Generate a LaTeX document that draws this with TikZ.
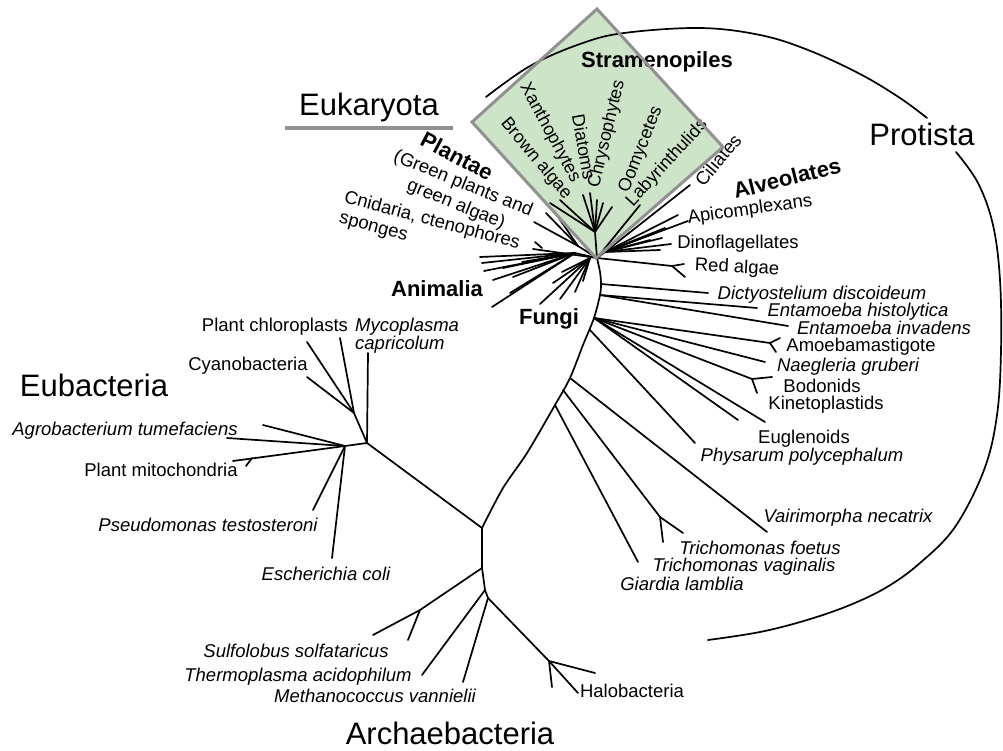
\documentclass[tikz,border=0pt]{standalone}
\usepackage{fontspec}
\setmainfont{Liberation Sans}
\definecolor{diafill}{RGB}{205,228,200}
\definecolor{diaedge}{RGB}{145,145,145}
\begin{document}
\begin{tikzpicture}[x=1pt,y=-1pt,
  br/.style={line width=1.7pt, line cap=round, line join=round},
  big/.style={font=\fontsize{31}{31}\selectfont, inner sep=0pt},
  grp/.style={font=\bfseries\fontsize{22}{22}\selectfont, inner sep=0pt},
  lab/.style={font=\fontsize{18.5}{18.5}\selectfont, inner sep=0pt},
  itl/.style={font=\itshape\fontsize{18.5}{18.5}\selectfont, inner sep=0pt},
  stl/.style={font=\fontsize{18}{18}\selectfont, inner sep=0pt},
  arcline/.style={line width=1.7pt, line cap=round},
  bar/.style={line width=3.5pt, draw=diaedge}
]
\useasboundingbox (0,0) rectangle (1003,751);
\fill[white] (0,0) rectangle (1003,751);

% diamond (fill)
\coordinate (dT) at (597,9);
\coordinate (dR) at (723,147);
\coordinate (dB) at (596,258);
\coordinate (dL) at (472,122);
\fill[diafill] (dT) -- (dR) -- (dB) -- (dL) -- cycle;

% Protista arc
\draw[arcline] plot[smooth, tension=0.6] coordinates {(486,97) (530,66) (580,44) (624,33) (700,28) (760,35) (808,50) (860,74) (900,98) (927,118)};
\draw[arcline] plot[smooth, tension=0.6] coordinates {(956,152) (978,183) (993,225) (1000,280) (1001,350) (997,415) (984,470) (955,527) (920,563) (887,587) (850,605) (807,620) (760,632) (708,640)};

% Eukaryota underline
\coordinate (u1) at (285,128);
\coordinate (u2) at (453,128);
\draw[bar] (u1) -- (u2);

% ---------- trunk ----------
\coordinate (K) at (597,258);
\coordinate (t1) at (601,284);
\coordinate (t2) at (600,295);
\coordinate (t3) at (594,318);
\coordinate (t3b) at (590,330);
\coordinate (t4) at (570,378);
\coordinate (t5) at (563,390);
\coordinate (t6) at (555,405);
\coordinate (J1) at (482,528);
\draw[br] plot[smooth, tension=0.5] coordinates {(K) (600,272) (t1) (t2) (t3) (583,345) (t4) (t6) (527,453) (503,488) (J1)};

% ---------- Eubacteria ----------
\coordinate (E) at (367,443);
\coordinate (Ech) at (354,413);
\coordinate (myc) at (368,353);
\coordinate (pc1) at (307,342);
\coordinate (pc2) at (340,338);
\coordinate (cya) at (307,377);
\coordinate (E2) at (345,446);
\coordinate (ag1) at (263,425);
\coordinate (ag2) at (227,438);
\coordinate (pm) at (233,461);
\coordinate (pmf) at (252,458);
\coordinate (pmf2) at (246,466);
\coordinate (ps) at (313,510);
\coordinate (ec) at (332,558);
\draw[br] (J1) -- (E);
\draw[br] (E) -- (Ech) -- (pc1);
\draw[br] (Ech) -- (pc2);
\draw[br] (Ech) -- (cya);
\draw[br] (E) -- (myc);
\draw[br] (E) -- (E2);
\draw[br] (E2) -- (ag1);
\draw[br] (E2) -- (ag2);
\draw[br] (E2) -- (pm);
\draw[br] (pmf) -- (pmf2);
\draw[br] (E2) -- (ps);
\draw[br] (E2) -- (ec);

% ---------- Archaebacteria ----------
\coordinate (J2) at (482,568);
\coordinate (SN) at (420,610);
\coordinate (s1) at (373,635);
\coordinate (s2) at (408,640);
\coordinate (J3) at (485,590);
\coordinate (th) at (422,675);
\coordinate (J4) at (488,598);
\coordinate (me) at (463,682);
\coordinate (HN) at (549,661);
\coordinate (h1) at (595,673);
\coordinate (h2) at (578,693);
\coordinate (h3) at (552,687);
\draw[br] (J1) -- (J2);
\draw[br] (J2) -- (SN) -- (s1);
\draw[br] (SN) -- (s2);
\draw[br] (J2) -- (J3) -- (th);
\draw[br] (J3) -- (J4) -- (me);
\draw[br] (J4) -- (HN) -- (h1);
\draw[br] (HN) -- (h2);
\draw[br] (HN) -- (h3);

% ---------- Protist branches ----------
\coordinate (ra) at (672,266);
\coordinate (ra1) at (684,264);
\coordinate (ra2) at (685,277);
\coordinate (dic) at (708,293);
\coordinate (eh) at (757,308);
\coordinate (ei) at (788,326);
\coordinate (amn) at (770,343);
\coordinate (am1) at (780,338);
\coordinate (am2) at (776,352);
\coordinate (nae) at (765,362);
\coordinate (bon) at (752,379);
\coordinate (bo1) at (772,377);
\coordinate (bo2) at (757,393);
\coordinate (eu1) at (765,422);
\coordinate (eu2) at (738,420);
\coordinate (phy) at (695,443);
\coordinate (vai) at (767,532);
\coordinate (trn) at (660,517);
\coordinate (tr1) at (683,533);
\coordinate (tr2) at (663,542);
\coordinate (gia) at (638,562);
\draw[br] (K) -- (ra) -- (ra1);
\draw[br] (ra) -- (ra2);
\draw[br] (t1) -- (dic);
\draw[br] (t2) -- (eh);
\draw[br] (t2) -- (ei);
\draw[br] (t3) -- (amn) -- (am1);
\draw[br] (amn) -- (am2);
\draw[br] (t3) -- (nae);
\draw[br] (t3) -- (bon) -- (bo1);
\draw[br] (bon) -- (bo2);
\draw[br] (t3) -- (eu1);
\draw[br] (t3) -- (eu2);
\draw[br] (t3b) -- (phy);
\draw[br] (t4) -- (vai);
\draw[br] (t5) -- (trn) -- (tr1);
\draw[br] (trn) -- (tr2);
\draw[br] (t6) -- (gia);

% ---------- crown fans ----------
% Plantae
\coordinate (pl) at (578,246);
\coordinate (pl1) at (534,222);
\coordinate (pl2) at (546,213);
\coordinate (pl3) at (554,211);
\draw[br] (K) -- (pl) -- (pl1);
\draw[br] (pl) -- (pl2);
\draw[br] (pl) -- (pl3);
% Cnidaria
\coordinate (cn) at (533,249);
\coordinate (cnf) at (542,248);
\coordinate (cnf2) at (535,242);
\draw[br] (K) -- (cn);
\draw[br] (cnf) -- (cnf2);
% Animalia
\coordinate (an) at (575,253);
\coordinate (an1) at (480,257);
\coordinate (an2) at (482,263);
\coordinate (an3) at (484,271);
\coordinate (an4) at (493,280);
\coordinate (an5) at (492,307);
\coordinate (an6) at (510,293);
\coordinate (an7) at (513,277);
\coordinate (an8) at (503,268);
\coordinate (an9) at (522,262);
\draw[br] (K) -- (an);
\foreach \t in {an1,an2,an3,an4,an5,an6,an7,an8,an9} \draw[br] (an) -- (\t);
% Fungi
\coordinate (fu) at (590,258);
\coordinate (fu1) at (540,304);
\coordinate (fu2) at (560,299);
\coordinate (fu3) at (575,292);
\coordinate (fu4) at (583,281);
\coordinate (fu5) at (553,283);
\coordinate (fu6) at (562,272);
\foreach \t in {fu1,fu2,fu3,fu4,fu5,fu6} \draw[br] (fu) -- (\t);
% Alveolates
\coordinate (al) at (605,252);
\coordinate (ci) at (690,185);
\coordinate (ap1) at (688,221);
\coordinate (ap2) at (678,215);
\coordinate (ap3) at (665,228);
\coordinate (ap4) at (655,233);
\coordinate (di1) at (671,244);
\coordinate (di2) at (660,250);
\coordinate (di3) at (650,240);
\coordinate (di4) at (662,238);
\draw[br] (K) -- (al);
\foreach \t in {ci,ap1,ap2,ap3,ap4,di1,di2,di3,di4} \draw[br] (al) -- (\t);
% Stramenopiles
\coordinate (st) at (595,232);
\coordinate (st1) at (550,203);
\coordinate (st2) at (560,200);
\coordinate (st3) at (583,195);
\coordinate (st4) at (590,193);
\coordinate (st5) at (597,200);
\coordinate (st6) at (603,203);
\coordinate (st7) at (612,207);
\coordinate (lb) at (640,205);
\draw[br] (K) -- (st);
\foreach \t in {st1,st2,st3,st4,st5,st6,st7} \draw[br] (st) -- (\t);
\draw[br] (K) -- (lb);

% ---------- labels ----------
\node[big, anchor=base] (eukaryota) at (369,116) {Eukaryota};
\node[big, anchor=base] (eubacteria) at (94,396) {Eubacteria};
\node[big, anchor=base] (protista) at (922,146) {Protista};
\node[big, anchor=base] (archaea) at (450,744) {Archaebacteria};

\node[grp, anchor=base] (stram) at (657,68) {Stramenopiles};
\node[grp, anchor=base] (animalia) at (437,296) {Animalia};
\node[grp, anchor=base] (fungi) at (549,324) {Fungi};
\node[grp, rotate=-28] (plantae) at (457,156) {Plantae};
\node[grp, rotate=14] (alveolates) at (787,178) {Alveolates};

\node[lab, rotate=-22] (green1) at (463,184) {(Green plants and};
\node[lab, rotate=-22] (green2) at (456,205) {green algae)};
\node[lab, rotate=-15] (cnid) at (432,221) {Cnidaria, ctenophores};
\node[lab, rotate=-15] (spong) at (373,229) {sponges};

\node[stl, rotate=-61.7] (xan) at (550,133) {Xanthophytes};
\node[stl, rotate=-50] (brown) at (536,159) {Brown algae};
\node[stl, rotate=-80] (diat) at (584,147) {Diatoms};
\node[stl, rotate=76.6] (chry) at (607,134) {Chrysophytes};
\node[stl, rotate=68.4] (oomy) at (641,150) {Oomycetes};
\node[stl, rotate=47.6] (laby) at (667,163) {Labyrinthulids};
\node[lab, rotate=50] (cil) at (718,160) {Ciliates};
\node[lab, rotate=8] (apic) at (750,210) {Apicomplexans};
\node[lab, anchor=base] (dino) at (738,248) {Dinoflagellates};
\node[lab, rotate=-3] (redalg) at (737,268) {Red algae};

\node[itl, anchor=base] (dict) at (822,299) {Dictyostelium discoideum};
\node[itl, anchor=base] (enth) at (858,316) {Entamoeba histolytica};
\node[itl, anchor=base] (enti) at (884,334) {Entamoeba invadens};
\node[lab, anchor=base] (amoe) at (861,351) {Amoebamastigote};
\node[itl, anchor=base] (naeg) at (848,371) {Naegleria gruberi};
\node[lab, anchor=base] (bodo) at (822,392) {Bodonids};
\node[lab, anchor=base] (kine) at (826,409) {Kinetoplastids};
\node[lab, anchor=base] (eugl) at (804,443) {Euglenoids};
\node[itl, anchor=base] (phys) at (802,461) {Physarum polycephalum};
\node[itl, anchor=base] (vair) at (848,522) {Vairimorpha necatrix};
\node[itl, anchor=base] (trif) at (760,554) {Trichomonas foetus};
\node[itl, anchor=base] (triv) at (744,571) {Trichomonas vaginalis};
\node[itl, anchor=base] (giar) at (682,590) {Giardia lamblia};

\node[lab, anchor=base] (plchl) at (275,331) {Plant chloroplasts};
\node[itl, anchor=base west] (mycop) at (355,331) {Mycoplasma};
\node[itl, anchor=base west] (capri) at (355,349) {capricolum};
\node[lab, anchor=base] (cyano) at (248,370) {Cyanobacteria};
\node[itl, anchor=base] (agro) at (125,435) {Agrobacterium tumefaciens};
\node[lab, anchor=base] (plmit) at (161,476) {Plant mitochondria};
\node[itl, anchor=base] (pseu) at (208,531) {Pseudomonas testosteroni};
\node[itl, anchor=base] (esch) at (326,580) {Escherichia coli};

\node[itl, anchor=base] (sulf) at (296,657) {Sulfolobus solfataricus};
\node[itl, anchor=base] (therm) at (298,681) {Thermoplasma acidophilum};
\node[itl, anchor=base] (meth) at (375,702) {Methanococcus vannielii};
\node[lab, anchor=base] (halo) at (632,697) {Halobacteria};

% diamond border on top
\draw[draw=diaedge, line width=3pt, line join=miter] (dT) -- (dR) -- (dB) -- (dL) -- cycle;
\end{tikzpicture}
\end{document}
